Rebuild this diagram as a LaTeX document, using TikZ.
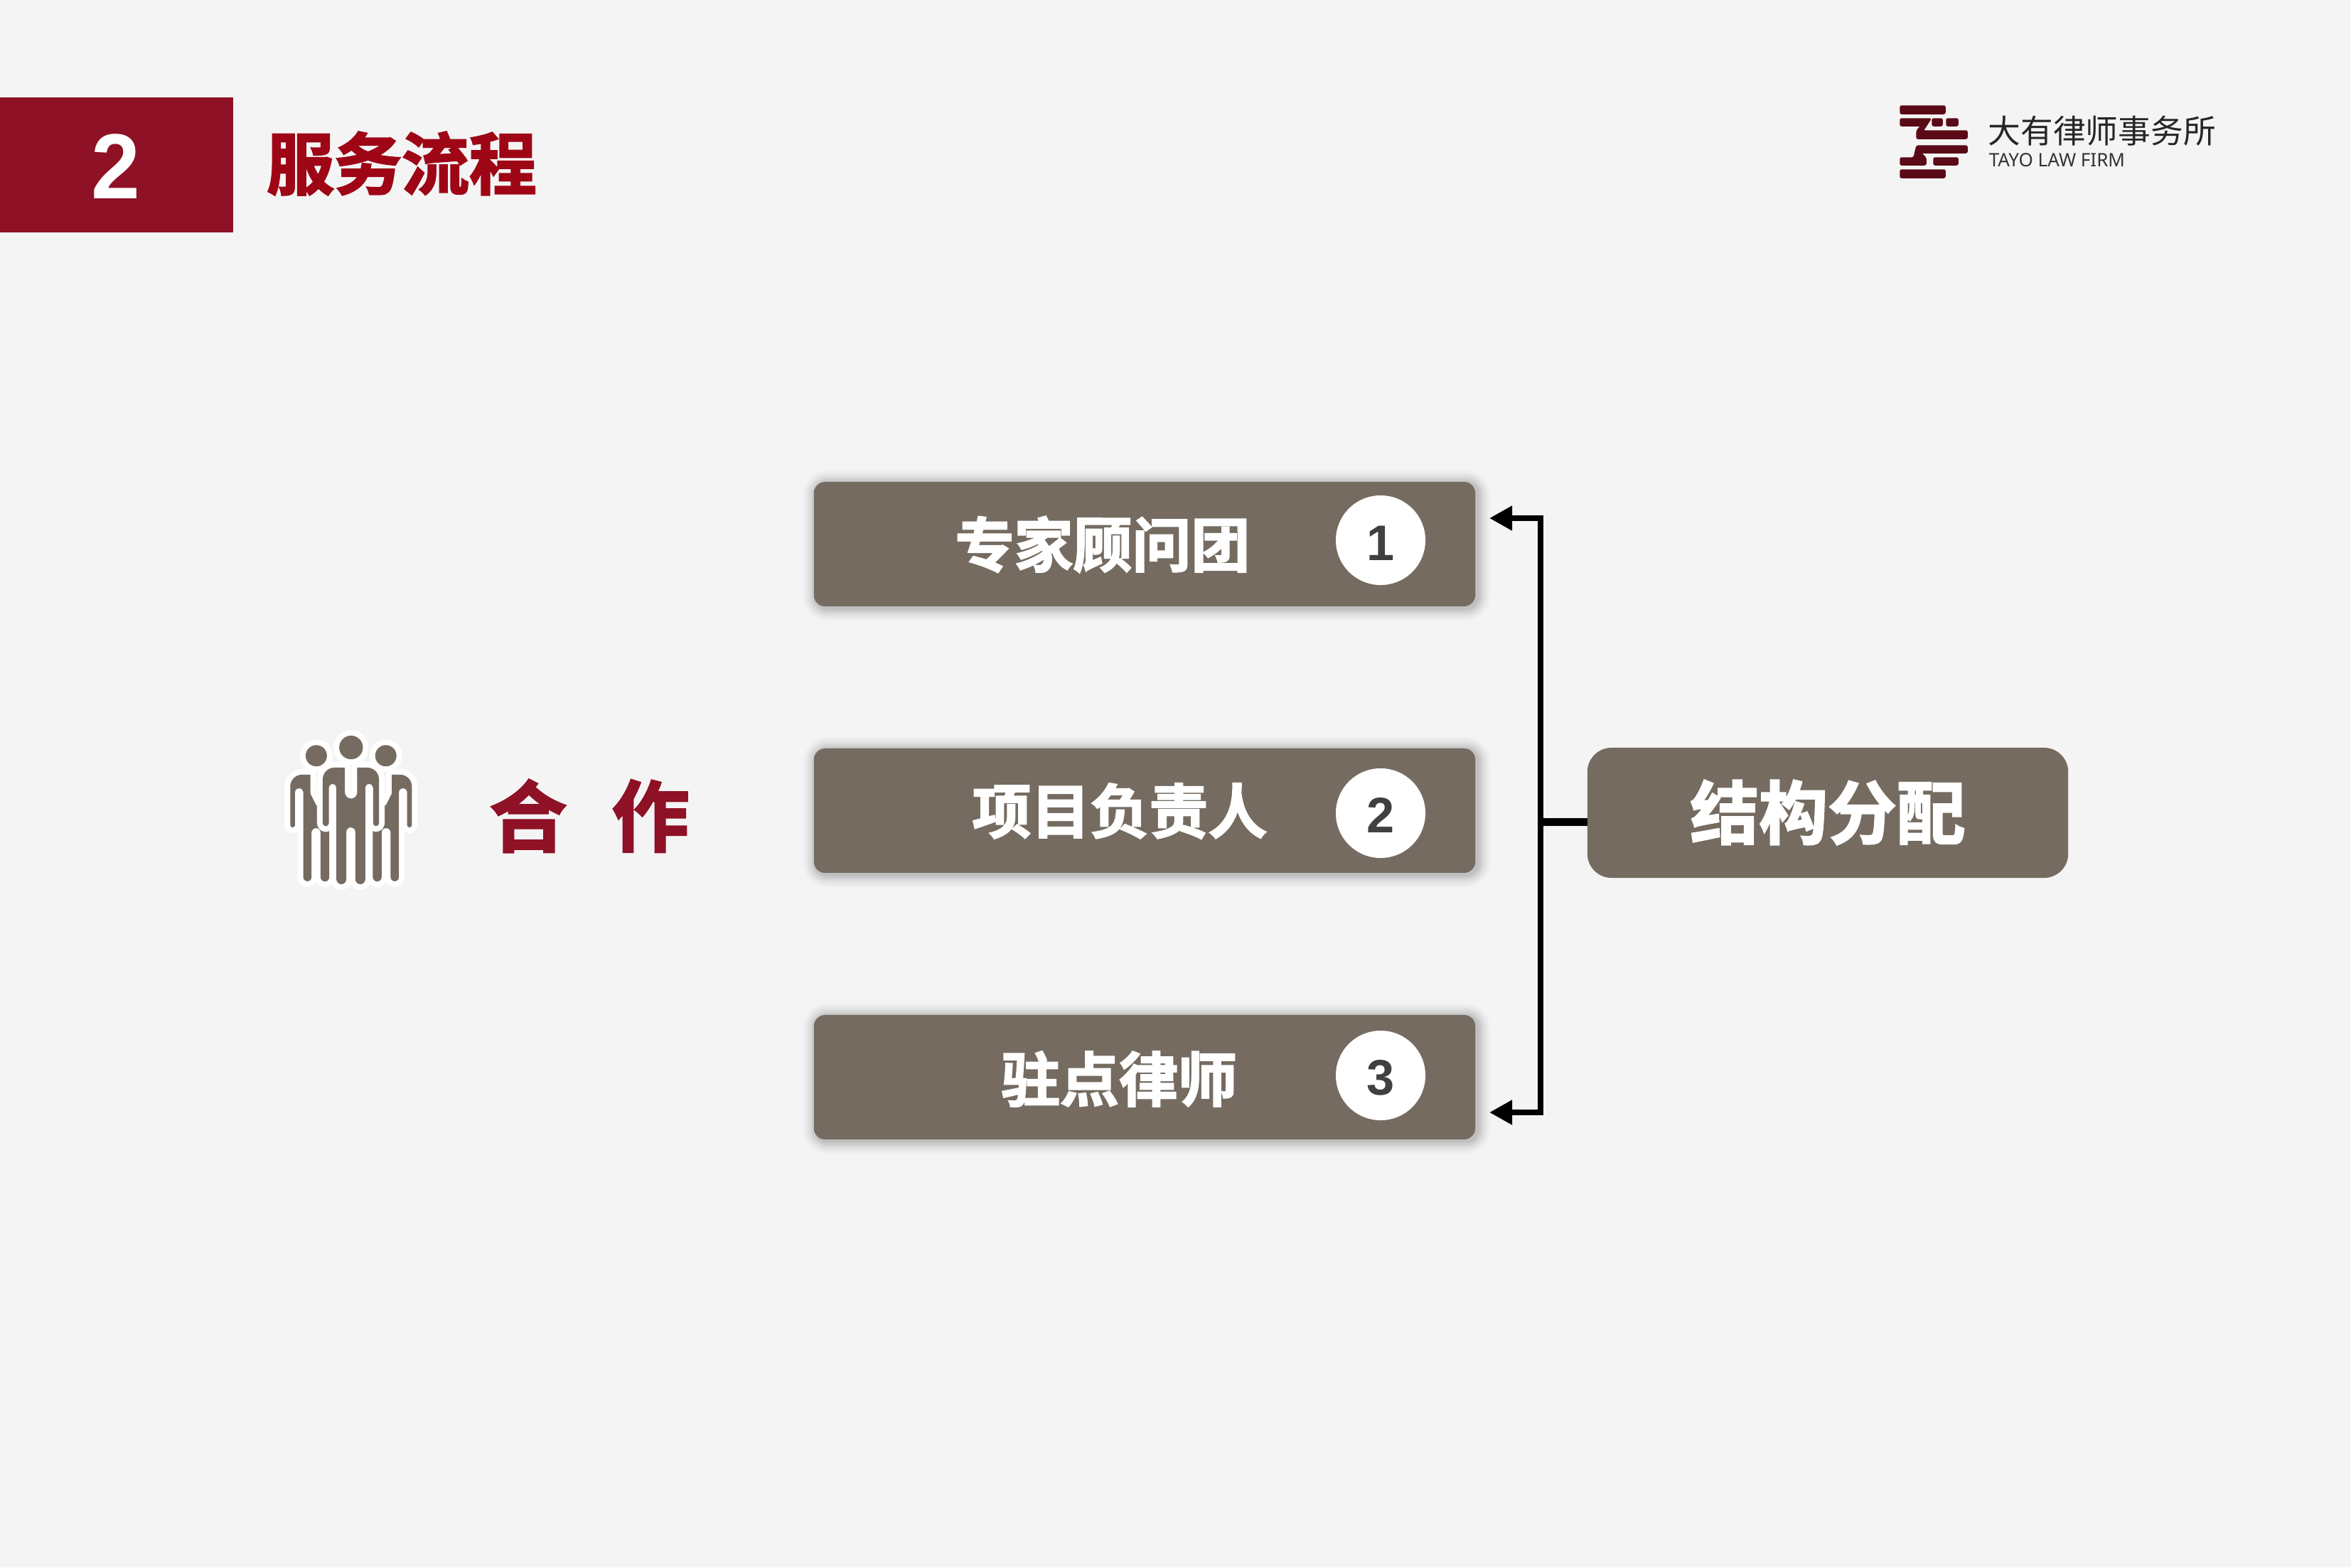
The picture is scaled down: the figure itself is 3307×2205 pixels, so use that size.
\documentclass[tikz,border=0pt]{standalone}
\usepackage{fontspec}
\usetikzlibrary{arrows.meta}
\setmainfont{Liberation Sans}
\newfontfamily\cjk{Noto Sans CJK SC}
\newfontfamily\cjkfat[FakeBold=2.4]{Noto Sans CJK SC Bold}
\newfontfamily\latinlogo{Noto Sans}
\definecolor{pagebg}{HTML}{F4F4F4}
\definecolor{boxbrown}{HTML}{756B60}
\definecolor{bandred}{HTML}{8E1126}
\definecolor{titlered}{HTML}{9E0616}
\definecolor{logored}{HTML}{5A0A16}
\definecolor{digitgrey}{HTML}{404040}
\tikzset{
  x=0.01cm,y=-0.01cm,
  flowbox/.style={draw=none,fill=boxbrown,rounded corners=0.16cm,inner sep=0pt,minimum width=9.30cm,minimum height=1.75cm},
  boxtext/.style={text=white,inner sep=0pt,font={\cjkfat\fontsize{23.6pt}{26pt}\selectfont}},
  numdisc/.style={circle,fill=white,minimum size=1.26cm,inner sep=0pt},
  numtext/.style={inner sep=0pt,text=digitgrey,font={\bfseries\fontsize{20pt}{22pt}\selectfont}},
  link/.style={black,line width=0.08cm},
  arrowlink/.style={link,-{Triangle[length=0.32cm,width=0.33cm]}},
  logobar/.style={fill=logored,draw=logored,line width=0.015cm,rounded corners=0.02cm},
  halo/.style={draw=white,line width=0.16cm,line join=round,fill=white},
  skin/.style={fill=boxbrown,draw=none},
}
\newcommand{\softshadow}[4]{%
  \foreach \w/\o in {0.36/0.02,0.30/0.025,0.24/0.03,0.18/0.04,0.12/0.05,0.06/0.06}{
    \draw[black,opacity=\o,line width=\w cm,rounded corners=0.16cm] (#1+3,#2+2) rectangle (#3+3,#4+2);
  }}
\newcommand{\sidepath}{
  (85,483) arc (180:0:10) -- (105,345) arc (180:360:17.5) -- (140,703) arc (180:0:17.5)
  -- (175,515) arc (180:360:19) -- (213,703) arc (180:0:18.5) -- (250,400) -- (195,400)
  -- (170,350) -- (170,270) -- (135,270) arc (270:180:50) -- cycle}
\newcommand{\centerpath}{
  (222,475) arc (180:0:13) -- (248,325) arc (180:360:16) -- (280,712) arc (180:0:21)
  -- (322,512) arc (180:360:19) -- (360,712) arc (180:0:21) -- (402,325) arc (180:360:16.5)
  -- (435,475) arc (180:0:12.5) -- (460,290) arc (0:-90:50) -- (368,240) -- (368,345)
  arc (0:180:26) -- (316,240) -- (272,240) arc (270:180:50) -- cycle}
\begin{document}
\begin{tikzpicture}
\useasboundingbox (0,0) rectangle (3307,2205);
\fill[pagebg] (0,0) rectangle (3307,2205);

% header
\node[fill=bandred,minimum width=3.28cm,minimum height=1.89cm,inner sep=0pt] (band) at (164,232) {};
\node[text=white,inner sep=0pt,xscale=0.95,font={\bfseries\fontsize{37pt}{38pt}\selectfont}] (bandnum) at (163,234) {2};
\node[text=titlered,inner sep=0pt,font={\cjkfat\fontsize{27pt}{30pt}\selectfont}] (title) at (565,230) {服务流程};

% logo
\fill[logobar] (2673,149) rectangle (2736,160);
\fill[logobar] (2673,167) -- (2716,167) -- (2705,184) -- (2767,184) -- (2767,195) -- (2696,195) -- (2696,184) -- (2702,177) -- (2673,177) -- cycle;
\fill[logobar] (2718,167) rectangle (2732,177);
\fill[logobar] (2738,167) rectangle (2754,177);
\fill[logobar] (2696,205) -- (2767,205) -- (2767,215) -- (2702,215) -- (2709,222) -- (2709,232) -- (2673,232) -- (2673,222) -- (2692,222) -- cycle;
\fill[logobar] (2720,222) rectangle (2754,232);
\fill[logobar] (2673,239) rectangle (2736,250);
\node[anchor=west,inner sep=0pt,text=black!85,font={\cjk\fontsize{13pt}{14pt}\selectfont}] (firmcn) at (2796,184) {大有律师事务所};
\node[anchor=west,inner sep=0pt,text=black!80,font={\latinlogo\fontsize{7.4pt}{9pt}\selectfont}] (firmen) at (2797,225) {TAYO LAW FIRM};

% icon
\begin{scope}[shift={(380,1000)},x=0.00333cm,y=-0.00333cm]
  \fill[halo] (195,190) circle (45);
  \fill[halo] (489,190) circle (45);
  \path[halo] \sidepath;
  \begin{scope}[shift={(684,0)},xscale=-1]
    \path[halo] \sidepath;
  \end{scope}
  \fill[skin] (195,190) circle (45);
  \fill[skin] (489,190) circle (45);
  \fill[skin] \sidepath;
  \begin{scope}[shift={(684,0)},xscale=-1]
    \fill[skin] \sidepath;
  \end{scope}
  \path[halo] (342,155) circle (50);
  \path[halo] \centerpath;
  \fill[skin] (342,155) circle (50);
  \fill[skin] \centerpath;
\end{scope}
\node[text=bandred,inner sep=0pt,font={\cjkfat\fontsize{31pt}{33pt}\selectfont}] (he) at (743,1148) {合};
\node[text=bandred,inner sep=0pt,font={\cjkfat\fontsize{31pt}{33pt}\selectfont}] (zuo) at (915,1148) {作};

% boxes
\softshadow{1145}{678}{2075}{853}
\node[flowbox] (boxa) at (1610,765.5) {};
\softshadow{1145}{1053}{2075}{1228}
\node[flowbox] (boxb) at (1610,1140.5) {};
\softshadow{1145}{1428}{2075}{1603}
\node[flowbox] (boxc) at (1610,1515.5) {};
\node[boxtext] (texta) at (1551,766) {专家顾问团};
\node[boxtext] (textb) at (1575,1141) {项目负责人};
\node[boxtext] (textc) at (1574,1518) {驻点律师};
\node[numdisc] (disca) at (1942,760) {};
\node[numdisc] (discb) at (1942,1144) {};
\node[numdisc] (discc) at (1942,1513) {};
\node[numtext] (numa) at (1942,764) {1};
\node[numtext] (numb) at (1942,1147) {2};
\node[numtext] (numc) at (1942,1516) {3};
\node[flowbox,minimum width=6.76cm,minimum height=1.83cm,rounded corners=0.34cm] (boxd) at (2571,1143.5) {};
\node[boxtext,font={\cjkfat\fontsize{27.5pt}{30pt}\selectfont}] (textd) at (2571,1143) {结构分配};

% connectors
\coordinate (stub) at (2233,1156);
\coordinate (junction) at (2167,1156);
\coordinate (tipa) at (2095,729);
\coordinate (tipc) at (2095,1565);
\draw[link,line width=0.11cm] (stub) -- (junction);
\draw[arrowlink] (junction) |- (tipa);
\draw[arrowlink] (junction) |- (tipc);
\end{tikzpicture}
\end{document}
